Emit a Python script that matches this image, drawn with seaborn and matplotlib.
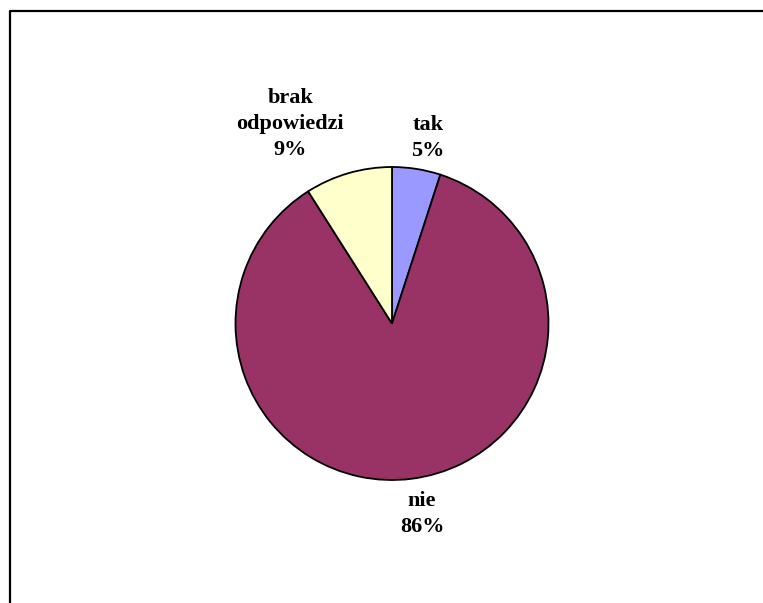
import numpy as np
import matplotlib
matplotlib.use('Agg')
import matplotlib.pyplot as plt
import seaborn as sns
from matplotlib.lines import Line2D

# Data
labels = ['tak', 'nie', 'brak\nodpowiedzi']
values = [5, 86, 9]
colors = ['#9999FF', '#993366', '#FFFFCC']
# label placement (distance in radii, angle in degrees)
label_pos = [(1.21, 79), (1.23, -81), (1.43, 117)]

sns.set_theme(style='white')
plt.rcParams['font.family'] = ['Liberation Serif', 'DejaVu Serif']

W, H = 763, 603
fig = plt.figure(figsize=(W / 100, H / 100), dpi=100)
fig.patch.set_facecolor('white')

# pie centre (392, 324) px, radius ~157 px
R = 156.5
lim = 1.6
size = 2 * lim * R
cx, cy = 392, H - 323.5
ax = fig.add_axes([(cx - size / 2) / W, (cy - size / 2) / H, size / W, size / H])

wedges, _ = ax.pie(values, colors=colors, startangle=90, counterclock=False,
                   wedgeprops=dict(edgecolor='black', linewidth=1.3))

for lab, v, (d, a) in zip(labels, values, label_pos):
    ang = np.deg2rad(a)
    ax.text(d * np.cos(ang), d * np.sin(ang), f'{lab}\n{v}%',
            ha='center', va='center', fontsize=16, fontweight='bold',
            linespacing=1.4, color='black')

ax.set_xlim(-lim, lim)
ax.set_ylim(-lim, lim)
ax.set_aspect('equal')
ax.axis('off')

# frame: left and top edges only
x0 = 9.5 / W
y0 = 1 - 11 / H
fig.add_artist(Line2D([x0, x0, 1], [0, y0, y0], transform=fig.transFigure,
                      color='black', linewidth=1.6))

fig.savefig('out.png', dpi=100)
